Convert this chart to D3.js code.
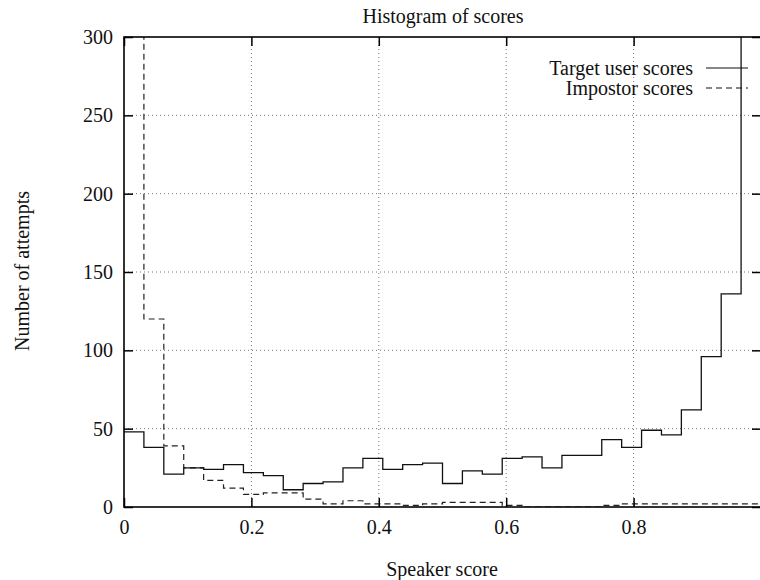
<!DOCTYPE html>
<html>
<head>
<meta charset="utf-8">
<script src="https://cdn.jsdelivr.net/npm/d3@7"></script>
<style>
  body { margin: 0; background: #fff; }
  text { font-family: "Liberation Serif", "DejaVu Serif", serif; fill: #111; }
</style>
</head>
<body>
<div id="chart"></div>
<script>
// histogram counts per bin (bins of 1/32)
var binWidth = 1 / 32;
var targetScores = [48, 38, 21, 25, 24, 27, 22, 20, 11, 15, 16, 25, 31, 24, 27, 28,
                    15, 23, 21, 31, 32, 25, 33, 33, 43, 38, 49, 46, 62, 96, 136, 900];
var impostorScores = [1400, 120, 39, 25, 17, 12, 8, 9, 9, 5, 2, 4, 2, 2, 1, 2,
                      3, 3, 3, 1, 0, 0, 0, 0, 1, 2, 2, 2, 2, 2, 2, 2];
var xTicks = [0, 0.2, 0.4, 0.6, 0.8, 1];
var xTickLabels = ["0", "0.2", "0.4", "0.6", "0.8", ""];
var yTicks = [0, 50, 100, 150, 200, 250, 300];
var seriesNames = ["Target user scores", "Impostor scores"];

var width = 760;
var height = 580;
var fontSize = "20px";

var margin = {
  top: 37,
  left: 124,
  bottom: 73,
  right: -1
};
var w = width - margin.left - margin.right;
var h = height - margin.top - margin.bottom;

var svg = d3
  .select("#chart")
  .append("svg")
  .attr("width", width)
  .attr("height", height);

var g = svg
  .append("g")
  .attr("transform", "translate(" + margin.left + "," + margin.top + ")");

var x = d3.scaleLinear().domain([0, 1]).range([0, w]);
var y = d3.scaleLinear().domain([0, 300]).range([h, 0]);

g.append("clipPath")
  .attr("id", "clip")
  .append("rect")
  .attr("width", w)
  .attr("height", h);

// grid
g.selectAll(".gx")
  .data(xTicks.slice(1, -1))
  .enter()
  .append("line")
  .attr("class", "gx")
  .attr("x1", function(d) { return x(d); })
  .attr("x2", function(d) { return x(d); })
  .attr("y1", 0)
  .attr("y2", h)
  .attr("stroke", "#777")
  .attr("stroke-width", 1)
  .attr("stroke-dasharray", "1,3");

g.selectAll(".gy")
  .data(yTicks.slice(1, -1))
  .enter()
  .append("line")
  .attr("class", "gy")
  .attr("x1", 0)
  .attr("x2", w)
  .attr("y1", function(d) { return y(d); })
  .attr("y2", function(d) { return y(d); })
  .attr("stroke", "#777")
  .attr("stroke-width", 1)
  .attr("stroke-dasharray", "1,3");

// steps
function stepPoints(values) {
  var pts = values.map(function(v, i) { return [i * binWidth, v]; });
  pts.push([values.length * binWidth, values[values.length - 1]]);
  return pts;
}

var line = d3
  .line()
  .x(function(d) { return x(d[0]); })
  .y(function(d) { return y(d[1]); })
  .curve(d3.curveStepAfter);

g.append("path")
  .datum(stepPoints(impostorScores))
  .attr("clip-path", "url(#clip)")
  .attr("fill", "none")
  .attr("stroke", "#222")
  .attr("stroke-width", 1.2)
  .attr("stroke-dasharray", "6,4")
  .attr("d", line);

g.append("path")
  .datum(stepPoints(targetScores))
  .attr("clip-path", "url(#clip)")
  .attr("fill", "none")
  .attr("stroke", "#111")
  .attr("stroke-width", 1.3)
  .attr("d", line);

// border + inward ticks
g.append("rect")
  .attr("width", w)
  .attr("height", h)
  .attr("fill", "none")
  .attr("stroke", "#000")
  .attr("stroke-width", 1.6);

var tickLen = 9;
var yAxisL = d3.axisLeft(y).tickValues(yTicks).tickSizeInner(-tickLen).tickSizeOuter(0).tickPadding(11);
var yAxisR = d3.axisRight(y).tickValues(yTicks).tickSizeInner(-tickLen).tickSizeOuter(0).tickFormat("");
var xAxisB = d3.axisBottom(x).tickValues(xTicks).tickSizeInner(-tickLen).tickSizeOuter(0).tickPadding(13)
  .tickFormat(function(d, i) { return xTickLabels[i]; });
var xAxisT = d3.axisTop(x).tickValues(xTicks).tickSizeInner(-tickLen).tickSizeOuter(0).tickFormat("");

g.append("g").call(yAxisL);
g.append("g").attr("transform", "translate(" + w + ",0)").call(yAxisR);
g.append("g").attr("transform", "translate(0," + h + ")").call(xAxisB);
g.append("g").call(xAxisT);

g.selectAll(".domain").remove();
g.selectAll(".tick line").attr("stroke", "#000").attr("stroke-width", 1.5);
g.selectAll(".tick text")
  .attr("font-family", "Liberation Serif, serif")
  .attr("font-size", fontSize)
  .attr("fill", "#111");

// legend
var legend = g
  .selectAll(".legend")
  .data(seriesNames)
  .enter()
  .append("g")
  .attr("class", "legend")
  .attr("transform", function(d, i) { return "translate(0," + (31 + i * 20) + ")"; });

legend
  .append("text")
  .attr("x", 569)
  .attr("dy", "0.35em")
  .attr("text-anchor", "end")
  .attr("font-size", fontSize)
  .text(function(d) { return d; });

legend
  .append("line")
  .attr("x1", 582)
  .attr("x2", 624)
  .attr("stroke", "#111")
  .attr("stroke-width", 1.2)
  .attr("stroke-dasharray", function(d, i) { return i == 0 ? null : "6,4"; });

// titles
svg.append("text")
  .attr("x", 443)
  .attr("y", 23)
  .attr("text-anchor", "middle")
  .attr("font-size", fontSize)
  .text("Histogram of scores");

svg.append("text")
  .attr("x", 442)
  .attr("y", 576)
  .attr("text-anchor", "middle")
  .attr("font-size", fontSize)
  .text("Speaker score");

svg.append("text")
  .attr("transform", "translate(29,271) rotate(-90)")
  .attr("text-anchor", "middle")
  .attr("font-size", fontSize)
  .text("Number of attempts");
</script>
</body>
</html>
